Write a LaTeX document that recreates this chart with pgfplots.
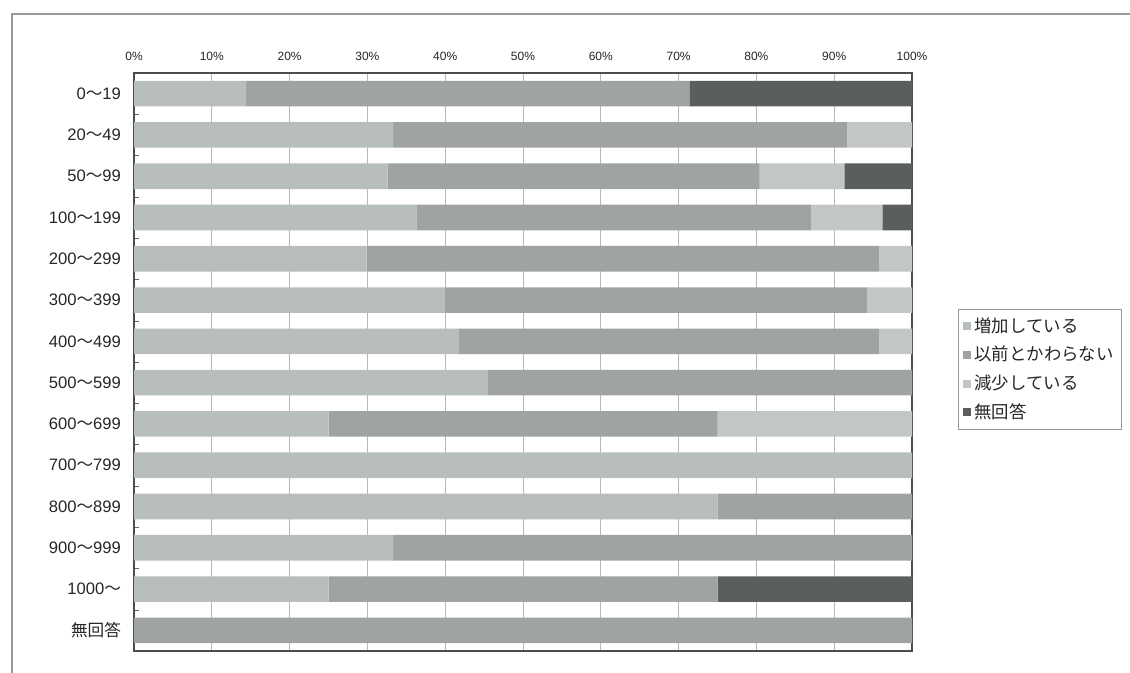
\documentclass[border=0pt]{standalone}
\usepackage{fontspec}
\usepackage{pgfplots}
\pgfplotsset{compat=1.18}
\setmainfont{Liberation Sans}
\newfontfamily\jp{Noto Sans CJK JP}
\newcommand\tl{{\jp ～}}
\definecolor{cz}{HTML}{B8BDBD}
\definecolor{ci}{HTML}{A0A3A3}
\definecolor{cg}{HTML}{C3C6C6}
\definecolor{cm}{HTML}{5A5F5D}
\begin{document}
\begin{tikzpicture}[x=1pt,y=1pt]
\path[use as bounding box] (0,0) rectangle (565,336.5);
\draw[black!40, line width=0.8pt] (6,0) -- (6,329.5) -- (565,329.5);
\begin{axis}[at={(67pt,11pt)}, anchor=south west, scale only axis,
  width=389pt, height=289pt,
  xbar stacked, bar width=0.62, y dir=reverse,
  xmin=0, xmax=100, ymin=-0.5, ymax=13.5,
  ytick={0,...,13},
  yticklabels={0\tl19,20\tl49,50\tl99,100\tl199,200\tl299,300\tl399,400\tl499,500\tl599,600\tl699,700\tl799,800\tl899,900\tl999,1000\tl,{\jp 無回答}},
  xtick={0,10,...,100},
  xticklabels={0\%,10\%,20\%,30\%,40\%,50\%,60\%,70\%,80\%,90\%,100\%},
  xticklabel pos=upper,
  ytick pos=left,
  major tick length=0pt,
  minor ytick={0.5,1.5,...,12.5},
  minor tick length=2.5pt,
  minor tick style={black!60},
  xmajorgrids,
  major grid style={color=black!28, line width=0.5pt},
  axis line style={color=black!70, line width=0.9pt},
  yticklabel style={font=\fontsize{8.3}{9}\selectfont, text=black!85, xshift=-3pt},
  xticklabel style={font=\fontsize{6}{7}\selectfont, text=black!85, yshift=2.5pt},
  legend style={at={(1.059,0.592)}, anchor=north west, draw=black!40, line width=0.6pt,
    font=\fontsize{8.7}{10}\selectfont\jp, text=black!85, row sep=1.5pt, inner sep=2pt},
  legend cell align=left,
  legend image code/.code={\fill[#1] (0pt,-2pt) rectangle (4pt,2pt);},
]
\addplot[fill=cz, draw=none] coordinates {
(14.3,0) (33.3,1) (32.6,2) (36.3,3) (29.9,4) (40.0,5) (41.7,6) (45.5,7) (25.0,8) (100,9) (75,10) (33.3,11) (25,12) (0,13)};
\addlegendentry{増加している}
\addplot[fill=ci, draw=none] coordinates {
(57.1,0) (58.4,1) (47.8,2) (50.7,3) (65.9,4) (54.2,5) (54.1,6) (54.5,7) (50.0,8) (0,9) (25,10) (66.7,11) (50,12) (100,13)};
\addlegendentry{以前とかわらない}
\addplot[fill=cg, draw=none] coordinates {
(0,0) (8.3,1) (10.9,2) (9.2,3) (4.2,4) (5.8,5) (4.2,6) (0,7) (25.0,8) (0,9) (0,10) (0,11) (0,12) (0,13)};
\addlegendentry{減少している}
\addplot[fill=cm, draw=none] coordinates {
(28.6,0) (0,1) (8.7,2) (3.8,3) (0,4) (0,5) (0,6) (0,7) (0,8) (0,9) (0,10) (0,11) (25,12) (0,13)};
\addlegendentry{無回答}
\end{axis}
\end{tikzpicture}
\end{document}
